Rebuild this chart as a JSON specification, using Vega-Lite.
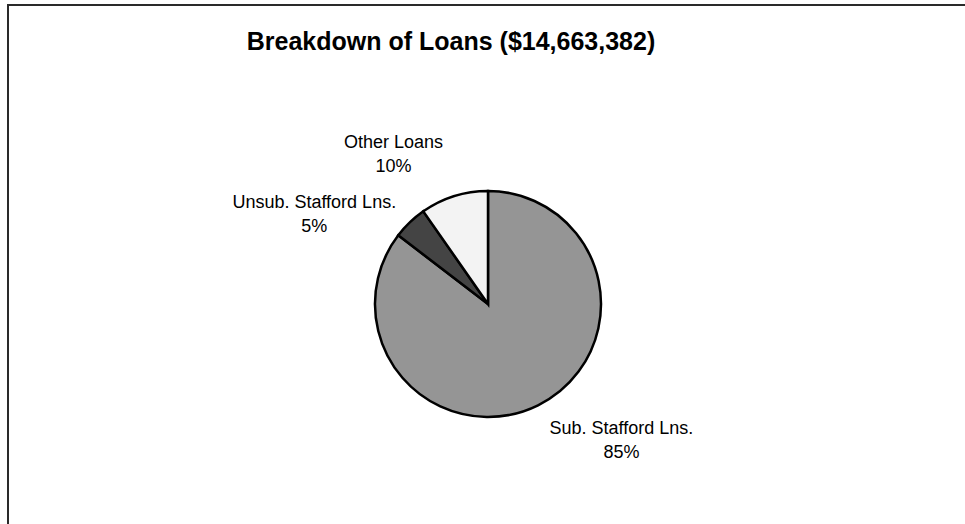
{
  "$schema": "https://vega.github.io/schema/vega-lite/v6.json",
  "autosize": {"type": "none"},
  "width": 960,
  "height": 598,
  "padding": {"left": 8, "top": 5, "right": 0, "bottom": 0},
  "background": "#ffffff",
  "config": {
    "view": {"stroke": null},
    "font": "Liberation Sans"
  },
  "title": {
    "text": "Breakdown of Loans ($14,663,382)",
    "font": "Liberation Sans",
    "fontSize": 25,
    "fontWeight": "bold",
    "color": "#000000",
    "anchor": "middle",
    "dx": -37,
    "offset": -51
  },
  "data": {
    "values": [
      {"loan": "Sub. Stafford Lns.", "share": 85.4, "order": 1},
      {"loan": "Unsub. Stafford Lns.", "share": 4.9, "order": 2},
      {"loan": "Other Loans", "share": 9.7, "order": 3}
    ]
  },
  "transform": [
    {"calculate": "format(datum.share, '.0f') + '%'", "as": "pct"},
    {"calculate": "[datum.loan, datum.pct]", "as": "label"}
  ],
  "layer": [
    {
      "mark": {"type": "rect", "fill": null, "stroke": "#2a2a2a", "strokeWidth": 2},
      "encoding": {}
    },
    {
      "mark": {"type": "arc", "outerRadius": 113, "stroke": "#000000", "strokeWidth": 2.5},
      "encoding": {
        "theta": {"field": "share", "type": "quantitative", "stack": true},
        "order": {"field": "order", "type": "quantitative"},
        "color": {
          "field": "loan",
          "type": "nominal",
          "scale": {
            "domain": ["Sub. Stafford Lns.", "Unsub. Stafford Lns.", "Other Loans"],
            "range": ["#959595", "#444444", "#f3f3f3"]
          },
          "legend": null
        }
      }
    },
    {
      "mark": {"type": "text", "radius": 150, "dx": 67, "dy": -9, "fontSize": 18, "lineHeight": 24, "align": "center", "baseline": "middle", "color": "#000000"},
      "encoding": {
        "theta": {"field": "share", "type": "quantitative", "stack": true},
        "order": {"field": "order", "type": "quantitative"},
        "text": {"condition": {"test": "datum.loan === 'Sub. Stafford Lns.'", "field": "label"}, "value": ""}
      }
    },
    {
      "mark": {"type": "text", "radius": 124, "dx": -88, "dy": -11, "fontSize": 18, "lineHeight": 24, "align": "center", "baseline": "middle", "color": "#000000"},
      "encoding": {
        "theta": {"field": "share", "type": "quantitative", "stack": true},
        "order": {"field": "order", "type": "quantitative"},
        "text": {"condition": {"test": "datum.loan === 'Unsub. Stafford Lns.'", "field": "label"}, "value": ""}
      }
    },
    {
      "mark": {"type": "text", "radius": 158, "dx": -47, "dy": -10, "fontSize": 18, "lineHeight": 24, "align": "center", "baseline": "middle", "color": "#000000"},
      "encoding": {
        "theta": {"field": "share", "type": "quantitative", "stack": true},
        "order": {"field": "order", "type": "quantitative"},
        "text": {"condition": {"test": "datum.loan === 'Other Loans'", "field": "label"}, "value": ""}
      }
    }
  ]
}
